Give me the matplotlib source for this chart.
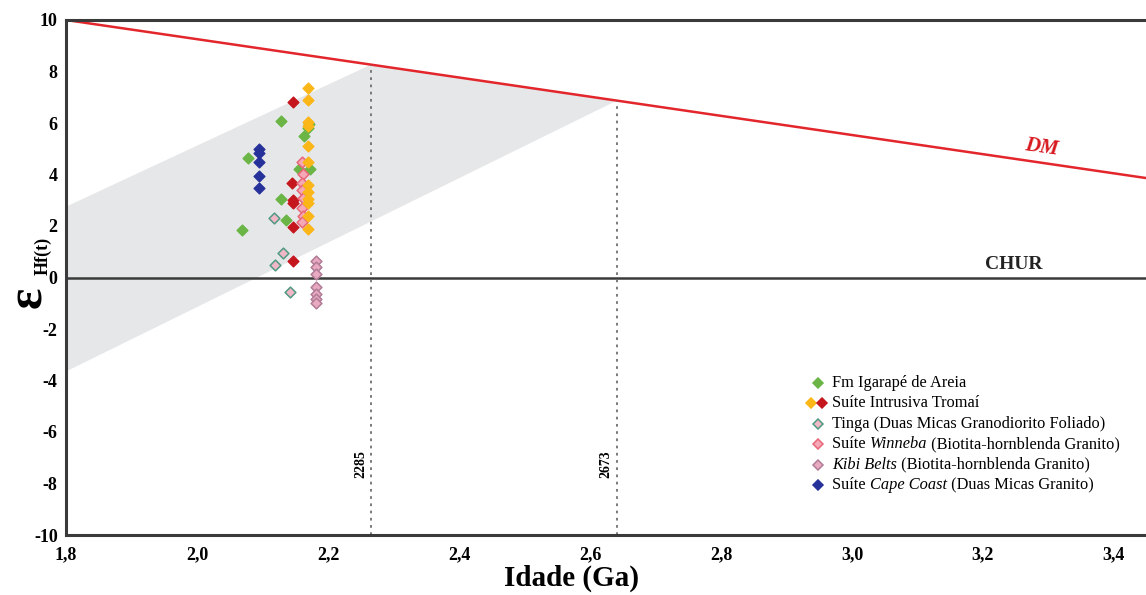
import matplotlib.pyplot as plt
from matplotlib.lines import Line2D

plt.rcParams['font.family'] = ['Liberation Serif', 'DejaVu Serif']

## Data (Idade em Ga, epsilon Hf(t))
igarape_x = [2.069, 2.078, 2.129, 2.129, 2.136, 2.164, 2.171, 2.156, 2.172, 2.170]
igarape_y = [1.84, 4.65, 6.08, 3.05, 2.23, 5.51, 5.95, 4.21, 4.21, 5.80]

tromai_y_x = [2.169] * 12
tromai_y_y = [7.37, 6.89, 6.04, 5.88, 5.12, 4.50, 3.59, 3.33, 2.89, 2.39, 1.87, 3.05]

tromai_r_x = [2.146, 2.145, 2.147, 2.147, 2.146, 2.147]
tromai_r_y = [6.83, 3.67, 3.01, 2.90, 1.95, 0.65]

tinga_x = [2.118, 2.132, 2.119, 2.142]
tinga_y = [2.30, 0.94, 0.49, -0.57]

winneba_x = [2.161, 2.162, 2.160, 2.161, 2.162, 2.160, 2.162, 2.161]
winneba_y = [4.50, 4.02, 3.67, 3.40, 3.10, 2.70, 2.40, 2.15]

kibi_x = [2.182] * 7
kibi_y = [0.65, 0.40, 0.15, -0.35, -0.65, -0.85, -1.00]

cape_x = [2.094] * 5
cape_y = [4.99, 4.82, 4.50, 3.95, 3.49]

# DM line, shaded band, model ages
dm_x = [1.8, 3.455]
dm_y = [10.0, 3.84]
band_x = [1.8, 2.266, 2.641, 1.8]
band_y = [2.75, 8.27, 6.87, -3.65]
tdm_x = [2.266, 2.641]
tdm_top = [8.27, 6.87]
tdm_labels = ['2285', '2673']

xticks = [1.8, 2.0, 2.2, 2.4, 2.6, 2.8, 3.0, 3.2, 3.4]
yticks = [-10, -8, -6, -4, -2, 0, 2, 4, 6, 8, 10]

# colours (fill, edge)
c_igarape = ('#6ab545', '#6ab545')
c_tromai_y = ('#fbb617', '#fbb617')
c_tromai_r = ('#c5161d', '#c5161d')
c_tinga = ('#f2b7c7', '#4f9a82')
c_winneba = ('#f5a9b6', '#e8677a')
c_kibi = ('#e9a9c0', '#b07c96')
c_cape = ('#26329a', '#26329a')

## Figure
W, H = 1146, 595
fig = plt.figure(figsize=(W / 100, H / 100), dpi=100)
ax = fig.add_axes([66 / W, 60 / H, 1084 / W, 515 / H])

ax.fill(band_x, band_y, color='#e6e7e8', lw=0, zorder=1)
ax.plot(dm_x, dm_y, color='#e3262b', lw=1.8, zorder=2)
ax.axhline(0, color='#3a3a3a', lw=1.8, zorder=2)
ax.vlines(tdm_x, -10, tdm_top, colors='#707070', linestyles=(0, (1.5, 2.5)), lw=1.3, zorder=2)
for xx, lab in zip(tdm_x, tdm_labels):
    ax.text(xx - 0.016, -7.25, lab, rotation=90, ha='center', va='center',
            fontsize=10, fontweight='bold')

ax.text(3.203, 0.5, 'CHUR', fontsize=14, fontweight='bold', ha='left', va='center', color='#222222')
ax.text(3.29, 5.05, 'DM', fontsize=15, fontweight='bold', style='italic', color='#d7191f',
        rotation=-8, ha='center', va='center')

ms = 30
ax.scatter(igarape_x, igarape_y, marker='D', s=ms, c=c_igarape[0], edgecolors=c_igarape[1], zorder=3)
ax.scatter(tinga_x, tinga_y, marker='D', s=ms, c=c_tinga[0], edgecolors=c_tinga[1], lw=1.1, zorder=3)
ax.scatter(tromai_r_x, tromai_r_y, marker='D', s=ms, c=c_tromai_r[0], edgecolors=c_tromai_r[1], zorder=3)
ax.scatter(cape_x, cape_y, marker='D', s=ms, c=c_cape[0], edgecolors=c_cape[1], zorder=3)
ax.scatter(winneba_x, winneba_y, marker='D', s=ms, c=c_winneba[0], edgecolors=c_winneba[1], lw=1.1, zorder=3)
ax.scatter(tromai_y_x, tromai_y_y, marker='D', s=ms, c=c_tromai_y[0], edgecolors=c_tromai_y[1], zorder=4)
ax.scatter(kibi_x, kibi_y, marker='D', s=ms, c=c_kibi[0], edgecolors=c_kibi[1], lw=1.1, zorder=3)

ax.set_xlim(1.8, 3.455)
ax.set_ylim(-10, 10)
ax.set_xticks(xticks)
ax.set_xticklabels([f'{v:.1f}'.replace('.', ',') for v in xticks])
ax.set_yticks(yticks)
ax.set_yticklabels([str(v) for v in yticks])
ax.tick_params(length=0, labelsize=13)
ax.tick_params(axis='x', pad=8)
ax.tick_params(axis='y', pad=6)
for lab in ax.get_xticklabels() + ax.get_yticklabels():
    lab.set_fontweight('bold')
for s in ax.spines.values():
    s.set_color('#3a3a3a')
    s.set_linewidth(2.2)
ax.spines['right'].set_visible(False)

fig.text(572 / W, 1 - 578 / H, 'Idade (Ga)', fontsize=21, fontweight='bold', ha='center', va='center')
fig.text(29 / W, 1 - 297 / H, 'ε', rotation=90, fontsize=36, fontweight='bold',
         ha='center', va='center')
fig.text(43 / W, 1 - 256 / H, 'Hf(t)', rotation=90, fontsize=13, fontweight='bold',
         ha='center', va='center')

## Legend (built by hand so italic words sit on the same baseline)
leg_rows = [
    ([c_igarape], [('Fm Igarapé de Areia', 'normal')]),
    ([c_tromai_y, c_tromai_r], [('Suíte Intrusiva Tromaí', 'normal')]),
    ([c_tinga], [('Tinga (Duas Micas Granodiorito Foliado)', 'normal')]),
    ([c_winneba], [('Suíte ', 'normal'), ('Winneba', 'italic'), (' (Biotita-hornblenda Granito)', 'normal')]),
    ([c_kibi], [('Kibi Belts', 'italic'), (' (Biotita-hornblenda Granito)', 'normal')]),
    ([c_cape], [('Suíte ', 'normal'), ('Cape Coast', 'italic'), (' (Duas Micas Granito)', 'normal')]),
]
leg_fs = 11.8
leg_y0, leg_dy = 383, 20.4
for i, (cols, segs) in enumerate(leg_rows):
    yy = 1 - (leg_y0 + i * leg_dy) / H
    mx = [818] if len(cols) == 1 else [811, 822]
    for xm, (fc, ec) in zip(mx, cols):
        fig.add_artist(Line2D([xm / W], [yy], transform=fig.transFigure, marker='D', ls='',
                              ms=5.5, mfc=fc, mec=ec, mew=1.1))
    prev = fig.text(832 / W, yy, segs[0][0], style=segs[0][1], fontsize=leg_fs,
                    va='center', ha='left')
    for txt, st in segs[1:]:
        prev = ax.annotate(txt, xy=(1, 0), xycoords=prev, va='bottom', ha='left',
                           style=st, fontsize=leg_fs, annotation_clip=False)

fig.savefig('out.png', dpi=100)
